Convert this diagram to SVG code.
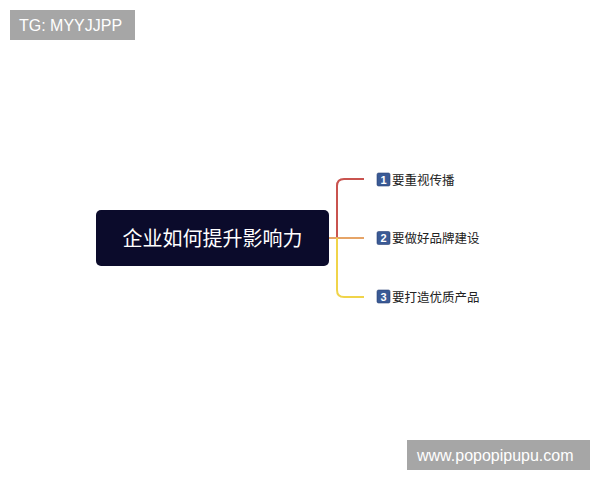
<svg xmlns="http://www.w3.org/2000/svg" width="600" height="480" viewBox="0 0 600 480">
<style>
.wm{fill:#a6a6a6}
.wmt{fill:#ffffff;font-family:"Liberation Sans",Arial,sans-serif;font-size:16px}
.cjk{font-family:"Noto Sans CJK SC","Liberation Sans",sans-serif}
.item{fill:#222;font-size:12.5px}
.ib{fill:#3a5a95;stroke:#2a4275;stroke-width:0.6}
.it{fill:#fff;font-family:"Liberation Sans",Arial,sans-serif;font-size:11px;font-weight:bold;text-anchor:middle}
.br{fill:none;stroke-width:2}
</style>
<rect width="600" height="480" fill="#ffffff"/>
<g id="wm-top"><rect class="wm" x="10" y="10" width="125" height="30"/><text class="wmt" x="19" y="31">TG: MYYJJPP</text></g>
<g id="connectors">
<path class="br" stroke="#c9534f" d="M329,238 H337 V186 Q337,179 344,179 H364"/>
<path class="br" stroke="#e6a467" d="M329,238 H364"/>
<path class="br" stroke="#f0d44a" d="M337,238 V290 Q337,297 344,297 H364"/>
</g>
<g id="center"><rect x="96" y="210" width="233" height="56" rx="5" fill="#0b0b2b"/><text class="cjk" x="212.5" y="245.5" fill="#ffffff" font-size="20" text-anchor="middle">企业如何提升影响力</text></g>
<g id="item1"><rect class="ib" x="377" y="173" width="13" height="13" rx="1.5"/><text class="it" x="383.5" y="183.5">1</text><text class="cjk item" x="392" y="184.5">要重视传播</text></g>
<g id="item2"><rect class="ib" x="377" y="231.5" width="13" height="13" rx="1.5"/><text class="it" x="383.5" y="242">2</text><text class="cjk item" x="392" y="243">要做好品牌建设</text></g>
<g id="item3"><rect class="ib" x="377" y="290" width="13" height="13" rx="1.5"/><text class="it" x="383.5" y="300.5">3</text><text class="cjk item" x="392" y="301.5">要打造优质产品</text></g>
<g id="wm-bottom"><rect class="wm" x="407" y="440" width="183" height="30"/><text class="wmt" x="417" y="461">www.popopipupu.com</text></g>
</svg>
